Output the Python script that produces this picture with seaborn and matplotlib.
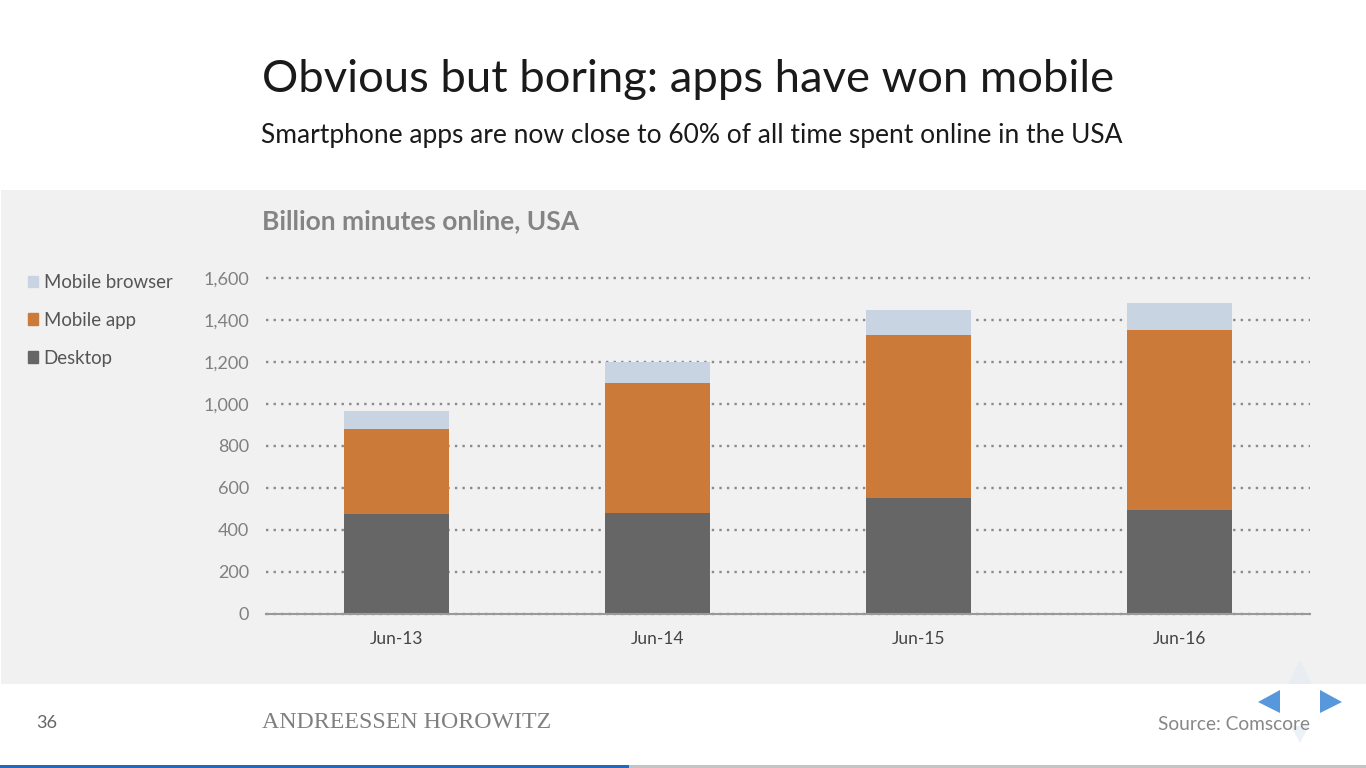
import matplotlib
matplotlib.use('Agg')
import matplotlib.pyplot as plt
import pandas as pd
import seaborn as sns
from matplotlib.patches import Polygon, Rectangle, Patch

# Valores
months = ['Jun-13', 'Jun-14', 'Jun-15', 'Jun-16']
desktop = [478, 480, 552, 495]
mobile_app = [403, 620, 777, 857]
mobile_browser = [86, 100, 119, 129]
y_ticks = [0, 200, 400, 600, 800, 1000, 1200, 1400, 1600]

GREY_PANEL = '#f1f1f1'
C_DESKTOP = '#666666'
C_APP = '#cc7a3a'
C_BROWSER = '#c9d4e3'

W, H = 1366, 768

sns.set_theme(style='white')
plt.rcParams['font.family'] = ['Lato', 'DejaVu Sans']

df = pd.DataFrame({'month': months, 'desktop': desktop, 'app': mobile_app, 'browser': mobile_browser})
df['app_top'] = df['desktop'] + df['app']
df['browser_top'] = df['app_top'] + df['browser']

fig = plt.figure(figsize=(W / 100, H / 100), dpi=100, facecolor='white')


def px_x(x):
    return x / W


def px_y(y):
    return 1 - y / H


# Fondo gris del panel y barra inferior
fig.patches.append(Rectangle((px_x(1), px_y(684)), (W - 1) / W, 494 / H, transform=fig.transFigure,
                             facecolor=GREY_PANEL, edgecolor='none', zorder=-5))
fig.patches.append(Rectangle((0, 0), 629 / W, 3 / H, transform=fig.transFigure, facecolor='#1f69c1', edgecolor='none'))
fig.patches.append(Rectangle((629 / W, 0), (W - 629) / W, 3 / H, transform=fig.transFigure, facecolor='#c4c4c4', edgecolor='none'))

ax = fig.add_axes([px_x(266), px_y(614), (1310 - 266) / W, (614 - 278) / H])
ax.patch.set_alpha(0)

# Barras apiladas: se dibuja del total hacia abajo
sns.barplot(data=df, x='month', y='browser_top', color=C_BROWSER, width=0.4, saturation=1, linewidth=0, ax=ax, zorder=3)
sns.barplot(data=df, x='month', y='app_top', color=C_APP, width=0.4, saturation=1, linewidth=0, ax=ax, zorder=4)
sns.barplot(data=df, x='month', y='desktop', color=C_DESKTOP, width=0.4, saturation=1, linewidth=0, ax=ax, zorder=5)

ax.set_xlim(-0.5, 3.5)
ax.set_ylim(0, 1600)
ax.set_yticks(y_ticks)
ax.set_yticklabels([f'{v:,}' for v in y_ticks])
ax.set_xlabel('')
ax.set_ylabel('')
ax.set_axisbelow(True)
ax.yaxis.grid(True, color='#8a8a8a', linewidth=1.7, linestyle=(0, (1, 2.2)))
for line in ax.get_ygridlines():
    line.set_clip_on(False)
ax.tick_params(axis='y', length=0, pad=12, labelsize=13, labelcolor='#808080')
ax.tick_params(axis='x', length=0, pad=12, labelsize=12.5, labelcolor='#444444')
for side in ['top', 'right', 'left']:
    ax.spines[side].set_visible(False)
ax.spines['bottom'].set_color('#999999')
ax.spines['bottom'].set_linewidth(1.5)
ax.spines['bottom'].set_zorder(6)

# Leyenda
handles = [Patch(color=C_BROWSER, label='Mobile browser'),
           Patch(color=C_APP, label='Mobile app'),
           Patch(color=C_DESKTOP, label='Desktop')]
fig.legend(handles=handles, loc='upper left', bbox_to_anchor=(px_x(13), px_y(259)), frameon=False,
           fontsize=13.4, labelcolor='#555555', handlelength=0.56, handleheight=0.56, handletextpad=0.28,
           labelspacing=1.12, borderpad=0.3)

# Textos
fig.text(px_x(262), px_y(79), 'Obvious but boring: apps have won mobile', fontsize=32.7, color='#1a1a1a', va='center')
fig.text(px_x(261), px_y(136), 'Smartphone apps are now close to 60% of all time spent online in the USA',
         fontsize=19, color='#1a1a1a', va='center')
fig.text(px_x(262), px_y(221), 'Billion minutes online, USA', fontsize=19, fontweight='bold', color='#848484', va='center')
fig.text(px_x(36), px_y(723), '36', fontsize=13, color='#666666', va='center')
fig.text(px_x(262), px_y(723), 'ANDREESSEN HOROWITZ', fontsize=17.2, family='Liberation Serif', color='#808080', va='center')
fig.text(px_x(1310), px_y(724), 'Source: Comscore', fontsize=13.8, color='#888888', va='center', ha='right')

# Flechas de navegacion
arrows = [([(1258, 702), (1280, 690), (1280, 713)], '#5797dc'),
          ([(1342, 702), (1320, 690), (1320, 713)], '#5797dc'),
          ([(1300, 660), (1288, 684), (1312, 684)], '#e9edf2'),
          ([(1300, 743), (1291, 726), (1309, 726)], '#edf2f9')]
for pts, col in arrows:
    fig.patches.append(Polygon([(px_x(a), px_y(b)) for a, b in pts], closed=True, transform=fig.transFigure,
                               facecolor=col, edgecolor='none', zorder=3))

fig.savefig('out.png', dpi=100)
